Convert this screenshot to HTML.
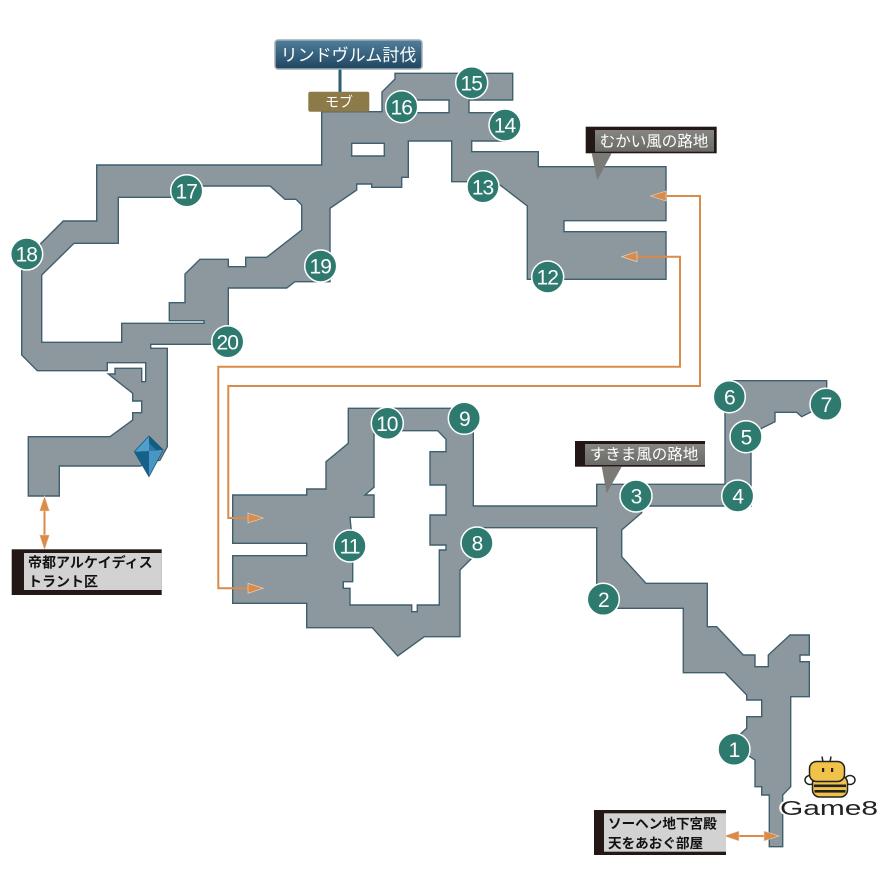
<!DOCTYPE html>
<html><head><meta charset="utf-8"><style>
html,body{margin:0;padding:0;background:#fff;}
svg{display:block;}
.num{font-family:"Liberation Sans",sans-serif;font-size:21px;fill:#fff;text-anchor:middle;letter-spacing:-1px;}
.jp{font-family:"Liberation Sans","Noto Sans CJK JP",sans-serif;}
</style></head><body>
<svg width="880" height="880" viewBox="0 0 880 880" xmlns="http://www.w3.org/2000/svg">
<defs>
<linearGradient id="bl" x1="0" y1="0" x2="0" y2="1">
<stop offset="0" stop-color="#4f7f9c"/><stop offset="1" stop-color="#1f4560"/>
</linearGradient>
<linearGradient id="gr" x1="0" y1="0" x2="0" y2="1">
<stop offset="0" stop-color="#858582"/><stop offset="1" stop-color="#6a6a67"/>
</linearGradient>
</defs>
<rect width="880" height="880" fill="#fff"/>

<!-- Region A -->
<path fill="#8c989d" stroke="#3e5f6e" stroke-width="1.4" fill-rule="evenodd" d="
M96.7,165 L321.7,165 L321.7,111.7 L382,111.7 L382,92 L395,79 L395,73.3 L512.7,73.3 L512.7,100 L469,100 L469,112.7 L505,112.7 L505,141 L471.7,141 L471.7,151.7 L538.3,151.7 L538.3,166.7 L666,166.7 L666,220.7 L564,220.7 L564,231.7 L666,231.7 L666,279.3 L527.3,279.3 L527.3,206 L500,185 L483,181.7 L451.7,181.7 L451.7,141 L408.3,141 L408.3,177.3 L401.7,177.3 L401.7,187.3 L371.7,187.3 L371.7,184 L356.7,184 L356.7,190 L330,208.3 L330,281.7 L295,281.7 L286.7,288 L228.3,288 L228.3,344.3 L150.7,344.3 L150.7,348.3 L167.3,348.3 L167.3,446.7 L160,460 L140,466 L59.3,466 L59.3,496 L28.3,496 L28.3,436.7 L110,436.7 L132.7,420 L132.7,412.7 L141.7,412.7 L141.7,401 L132.7,401 L132.7,393.3 L108.3,374 L115,374 L115,368.3 L141.7,368.3 L141.7,381.7 L145.7,381.7 L145.7,362.7 L107.3,362.7 L107.3,370.7 L37.3,370.7 L21.7,355 L21.7,262.7 L63.3,221 L96.7,221 Z
M118.3,197.3 L186,197.3 L186,186 L270,186 L285,199.3 L296,199.3 L301.7,205 L301.7,230 L266.7,257.3 L245.7,257.3 L245.7,266.7 L228.3,266.7 L228.3,259.3 L200,259.3 L185,274 L185,302.7 L169.3,302.7 L169.3,320.7 L204,320.7 L204,323.3 L121.7,323.3 L121.7,342.3 L41.7,342.3 L41.7,275 L74,243.3 L118.3,243.3 Z
M414,100 L449,100 L449,112.7 L414,112.7 Z
M351.7,143.3 L384.3,143.3 L384.3,156 L351.7,156 Z"/>

<!-- Region B -->
<path fill="#8c989d" stroke="#3e5f6e" stroke-width="1.4" fill-rule="evenodd" d="
M348.3,408.3 L473.3,408.3 L473.3,506 L596.7,506 L596.7,484.3 L725,484.3 L725,394 L733,380.7 L826.7,380.7 L826.7,404 L801.7,416.7 L796.7,412.3 L775,412.3 L775,421.7 L761.7,428.3 L751,436 L751,506 L641.7,506 L641.7,512.7 L621.7,530 L621.7,556.7 L646,583.3 L707.3,583.3 L707.3,626.7 L716.7,626.7 L743.3,655 L755,655 L755,666.7 L768.3,666.7 L768.3,655 L790,635 L809.3,635 L809.3,655 L800,655 L800,661.7 L809.3,661.7 L809.3,696.7 L790.7,696.7 L790.7,786.7 L782.7,795 L782.7,846.7 L769.3,846.7 L769.3,795 L761.7,795 L761.7,786.7 L755,786.7 L755,760 L750,756.7 L734,749 L739.3,735 L746.7,728.3 L746.7,716.7 L761.7,716.7 L761.7,700 L746.7,700 L746.7,695 L725,672.7 L683.3,672.7 L683.3,608.3 L596.7,608.3 L596.7,527.7 L473.3,527.7 L471.7,558.3 L460,570 L460,636.7 L424.3,636.7 L397.7,656 L372.3,627.7 L306.7,627.7 L306.7,603.3 L232.7,603.3 L232.7,555.7 L306.7,555.7 L306.7,543.3 L232.7,543.3 L232.7,495 L306.7,495 L306.7,489 L326,489 L326,461.7 L348.3,443.3 Z
M374,430.7 L437.7,430.7 L446,439.3 L446,451.7 L430,451.7 L430,485 L446,485 L446,515 L430,515 L430,545 L446,545 L446,550 L439.3,550 L439.3,605 L417.3,605 L417.3,611.7 L411.7,611.7 L411.7,605 L350,605 L350,588.3 L343.3,588.3 L343.3,581.7 L352.7,581.7 L352.7,546 L350,517.3 L374,517.3 L374,495 L365,495 L374,487.3 Z"/>

<!-- Diamond -->
<g>
<polygon points="149,436 149,451 134.3,451.7" fill="#4f9fce"/>
<polygon points="149,436 163.3,450 149,451" fill="#125d82"/>
<polygon points="134.3,451.7 149,451 149,476.7" fill="#15618a"/>
<polygon points="149,451 163.3,450 149,476.7" fill="#4a96c2"/>
<polygon points="149,443 156,450 149,451" fill="#2b7aa5"/>
<polygon points="149,436 163.3,450 149,476.7 134.3,451.7" fill="none" stroke="#1b5a7a" stroke-width="0.8"/>
</g>

<!-- Orange connectors -->
<g fill="none" stroke="#d98b4c" stroke-width="2">
<path d="M665,196 L700,196 L700,386 L228.3,386 L228.3,518 L249,518"/>
<path d="M637,256.7 L680,256.7 L680,366.7 L218.3,366.7 L218.3,588.3 L249,588.3"/>
<path d="M44.5,510 L44.5,536"/>
<path d="M738,836 L765,836"/>
</g>
<g fill="#d98b4c" stroke="#f4d9c0" stroke-width="0.6">
<polygon points="650.7,196 666,191 666,201"/>
<polygon points="263.3,518 248,513 248,523"/>
<polygon points="621.7,256.7 637,251.7 637,261.7"/>
<polygon points="263.3,588.3 248,583.3 248,593.3"/>
<polygon points="44.5,496 39.5,511 49.5,511"/>
<polygon points="44.5,550 39.5,535 49.5,535"/>
<polygon points="724,836 739,831 739,841"/>
<polygon points="779,836 764,831 764,841"/>
</g>

<!-- Number circles -->
<g fill="#2f7a6f" stroke="#fff" stroke-width="1.5">
<circle cx="734" cy="749.3" r="16"/>
<circle cx="603.3" cy="599.3" r="16"/>
<circle cx="636" cy="496" r="16"/>
<circle cx="737.7" cy="496" r="16"/>
<circle cx="746" cy="436.7" r="16"/>
<circle cx="729.3" cy="396.7" r="16"/>
<circle cx="826" cy="404.3" r="16"/>
<circle cx="477" cy="543" r="16"/>
<circle cx="464.3" cy="418.3" r="16"/>
<circle cx="387.3" cy="423.3" r="16"/>
<circle cx="350" cy="546" r="16"/>
<circle cx="547.7" cy="277" r="16"/>
<circle cx="483" cy="186.7" r="16"/>
<circle cx="505" cy="125" r="16"/>
<circle cx="471.7" cy="82.7" r="16"/>
<circle cx="401.7" cy="106.7" r="16"/>
<circle cx="186.7" cy="190.7" r="16"/>
<circle cx="26.7" cy="254" r="16"/>
<circle cx="320.7" cy="266" r="16"/>
<circle cx="227.7" cy="341.7" r="16"/>
</g>
<g class="num">
<text x="734" y="756.9">1</text>
<text x="603.3" y="606.9">2</text>
<text x="636" y="503.6">3</text>
<text x="737.7" y="503.6">4</text>
<text x="746" y="444.3">5</text>
<text x="729.3" y="404.3">6</text>
<text x="826" y="411.9">7</text>
<text x="477" y="550.6">8</text>
<text x="464.3" y="425.9">9</text>
<text x="386.8" y="430.9">10</text>
<text x="349.5" y="553.6">11</text>
<text x="547.2" y="284.6">12</text>
<text x="482.5" y="194.3">13</text>
<text x="504.5" y="132.6">14</text>
<text x="471.2" y="90.3">15</text>
<text x="401.2" y="114.3">16</text>
<text x="186.2" y="198.3">17</text>
<text x="26.2" y="261.6">18</text>
<text x="320.2" y="273.6">19</text>
<text x="227.2" y="349.3">20</text>
</g>

<!-- Boss label -->
<line x1="340" y1="69" x2="340" y2="92" stroke="#2b5d73" stroke-width="3"/>
<rect x="275" y="40" width="147" height="29" rx="3" fill="url(#bl)" stroke="#a2aeb6" stroke-width="1.5"/>
<text x="348.5" y="61" class="jp" font-size="17" fill="#fff" text-anchor="middle">リンドヴルム討伐</text>
<rect x="308.3" y="91.7" width="61" height="20" rx="2" fill="#8c7a48"/>
<text x="339" y="107" class="jp" font-size="14" fill="#fff" text-anchor="middle">モブ</text>

<!-- むかい風の路地 -->
<rect x="585.7" y="126.7" width="131" height="26.6" fill="#231815"/>
<rect x="595" y="130" width="119" height="21.7" fill="url(#gr)"/>
<text x="654" y="146.5" class="jp" font-size="15.5" fill="#fff" text-anchor="middle">むかい風の路地</text>
<polygon points="591.7,153.3 611.7,153.3 597.3,180" fill="#7a7a76"/>

<!-- すきま風の路地 -->
<rect x="575" y="441" width="130" height="25.7" fill="#231815"/>
<rect x="585" y="444" width="120" height="21" fill="url(#gr)"/>
<text x="644" y="459.5" class="jp" font-size="15.5" fill="#fff" text-anchor="middle">すきま風の路地</text>
<polygon points="601.7,466.7 621.7,466.7 606.7,493.3" fill="#7a7a76"/>

<!-- 帝都 label -->
<rect x="11.7" y="549.3" width="150" height="45.7" fill="#231815"/>
<rect x="24" y="553" width="137.7" height="37" fill="#d2d2d2"/>
<text x="28" y="567.5" class="jp" font-size="14" font-weight="bold" fill="#111">帝都アルケイディス</text>
<text x="28" y="586.5" class="jp" font-size="14" font-weight="bold" fill="#111">トラント区</text>

<!-- ソーヘン label -->
<rect x="594" y="810" width="132" height="45" fill="#231815"/>
<rect x="604" y="813.3" width="122" height="38.4" fill="#d2d2d2"/>
<text x="608" y="828.3" class="jp" font-size="13.6" font-weight="bold" fill="#111">ソーヘン地下宮殿</text>
<text x="608" y="847.8" class="jp" font-size="13.6" font-weight="bold" fill="#111">天をあおぐ部屋</text>

<!-- Game8 logo -->
<g stroke="#222" stroke-width="1.5">
<line x1="823" y1="762" x2="822" y2="756.5"/>
<line x1="830" y1="762" x2="831" y2="756.5"/>
<ellipse cx="810" cy="780" rx="5" ry="4.5" fill="#fff"/>
<ellipse cx="850" cy="780" rx="5" ry="4.5" fill="#fff"/>
<rect x="812.5" y="776" width="35" height="21" rx="7" fill="#f0c24a"/>
<rect x="809.5" y="761.5" width="35" height="20" rx="7" fill="#f0c24a"/>
</g>
<rect x="814" y="784.5" width="32" height="2.6" fill="#222"/>
<rect x="814.5" y="790" width="31" height="2.6" fill="#222"/>
<rect x="822" y="768" width="2.2" height="4" fill="#222"/>
<rect x="831" y="768" width="2.2" height="4" fill="#222"/>
<text x="780" y="815" font-family="Liberation Sans,sans-serif" font-size="20" textLength="98" lengthAdjust="spacingAndGlyphs" fill="#222" stroke="#fff" stroke-width="3" paint-order="stroke">Game8</text>
</svg>
</body></html>
